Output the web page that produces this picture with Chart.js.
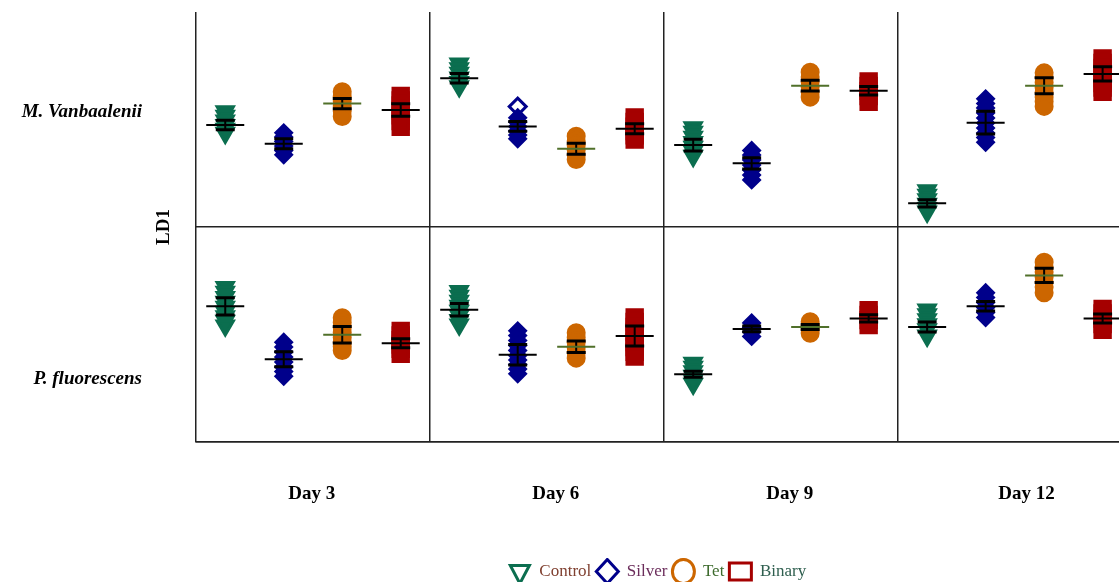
<!DOCTYPE html>
<html><head><meta charset="utf-8">
<script src="https://cdn.jsdelivr.net/npm/chart.js@4/dist/chart.umd.min.js"></script>
<style>html,body{margin:0;padding:0;background:#fff;}</style>
</head><body>
<canvas id="c" width="1119" height="582"></canvas>
<script>
// ---------- data ----------
const days = ['Day 3', 'Day 6', 'Day 9', 'Day 12'];
const treatments = ['Control', 'Silver', 'Tet', 'Binary'];
const species = ['M. Vanbaalenii', 'P. fluorescens'];

// M. Vanbaalenii: replicate LD1 scores per day (Day 3, 6, 9, 12)
const mvControl = [[0.37, 0.16, -0.05, -0.26, -0.44, -0.63], [2.59, 2.37, 2.16, 1.95, 1.74, 1.54], [-0.37, -0.58, -0.81, -1.05, -1.28, -1.49, -1.70], [-3.30, -3.51, -3.72, -3.93, -4.12, -4.29]];
const mvSilver = [[-0.62, -0.81, -1.02, -1.23, -1.44, -1.64], [0.08, -0.12, -0.33, -0.54, -0.72, -0.90], [-1.44, -1.65, -1.88, -2.12, -2.35, -2.58, -2.81], [0.96, 0.74, 0.54, 0.30, 0.07, -0.16, -0.40, -0.63, -0.84, -1.06]];
const mvSilverOpen = [[], [0.60], [], []];
const mvTet = [[1.29, 1.07, 0.86, 0.63, 0.40, 0.14], [-0.78, -1.00, -1.21, -1.42, -1.65, -1.86], [2.20, 1.98, 1.74, 1.51, 1.28, 1.04], [2.17, 1.95, 1.72, 1.49, 1.26, 1.05, 0.84, 0.61]];
const mvBinary = [[1.10, 0.88, 0.65, 0.42, 0.19, -0.07, -0.34], [0.09, -0.12, -0.33, -0.54, -0.74, -0.93], [1.77, 1.56, 1.33, 1.09, 0.82], [2.84, 2.63, 2.40, 2.16, 1.93, 1.70, 1.49, 1.29]];
// group means and standard errors [treatment][day]
const mvMean = [[-0.26, 1.92, -1.19, -3.90], [-1.13, -0.32, -2.04, -0.15], [0.74, -1.36, 1.57, 1.57], [0.44, -0.43, 1.34, 2.12]];
const mvSE = [[0.22, 0.22, 0.27, 0.17], [0.23, 0.23, 0.26, 0.53], [0.24, 0.26, 0.25, 0.37], [0.29, 0.23, 0.20, 0.33]];

// P. fluorescens
const pfControl = [[2.20, 1.98, 1.74, 1.51, 1.28, 1.05, 0.84, 0.63, 0.41], [2.01, 1.79, 1.56, 1.33, 1.09, 0.88, 0.67, 0.46], [-1.32, -1.51, -1.72, -1.93, -2.12, -2.30], [1.15, 0.93, 0.70, 0.47, 0.23, -0.06]];
const pfSilver = [[-0.36, -0.58, -0.81, -1.05, -1.28, -1.51, -1.72, -1.94], [0.17, -0.05, -0.28, -0.51, -0.74, -0.98, -1.19, -1.40, -1.61, -1.83], [0.54, 0.33, 0.12, -0.09], [1.94, 1.72, 1.49, 1.26, 1.02, 0.79]];
const pfSilverOpen = [[], [], [], []];
const pfTet = [[0.78, 0.56, 0.33, 0.09, -0.14, -0.35, -0.56, -0.74], [0.08, -0.14, -0.37, -0.61, -0.84, -1.10], [0.59, 0.42, 0.23, 0.06], [3.36, 3.14, 2.91, 2.67, 2.44, 2.21, 1.94]];
const pfBinary = [[0.17, -0.05, -0.26, -0.47, -0.67, -0.90], [0.79, 0.58, 0.35, 0.12, -0.12, -0.35, -0.58, -0.81, -1.02], [1.13, 0.91, 0.67, 0.44], [1.19, 0.98, 0.74, 0.49, 0.22]];
const pfMean = [[1.31, 1.15, -1.85, 0.35], [-1.15, -0.94, 0.26, 1.31], [-0.01, -0.57, 0.35, 2.75], [-0.41, -0.07, 0.75, 0.74]];
const pfSE = [[0.40, 0.29, 0.14, 0.23], [0.35, 0.48, 0.13, 0.22], [0.38, 0.27, 0.12, 0.33], [0.21, 0.47, 0.17, 0.21]];

// ---------- styling / layout ----------
const colors = ['#0b6e4f', '#00008b', '#cc6600', '#a50000'];
const legendText = ['#7f3f2f', '#6b2d5b', '#3d6b2d', '#2f5f4f'];
const marker = [
  {pointStyle: 'triangle', rotation: 180, radius: 9.4},
  {pointStyle: 'rectRot', rotation: 0, radius: 7.8},
  {pointStyle: 'circle', rotation: 0, radius: 8},
  {pointStyle: 'rect', rotation: 0, radius: 10.9}
];
const markerBorder = 3;
const tetMeanColor = '#50702a';
const SLOTS = 4;                 // x units per day panel
const XMAX = 15.78;              // right edge cuts the last panel
const meanHalf = 0.325, capHalf = 0.162;
const dayLabelAt = [1.98, 6.15, 10.15, 14.2];
const speciesLabelAt = [0.35, -2.07];
const lineCol = '#222';

const rows = [
  {axis: 'yTop', pts: [mvControl, mvSilver, mvTet, mvBinary], open: mvSilverOpen, mean: mvMean, se: mvSE},
  {axis: 'yBot', pts: [pfControl, pfSilver, pfTet, pfBinary], open: pfSilverOpen, mean: pfMean, se: pfSE}
];

const datasets = [];
rows.forEach(row => {
  const meanBlack = [], meanTet = [], stems = [], caps = [];
  for (let t = 0; t < 4; t++) {
    const pts = [];
    for (let d = 0; d < 4; d++) {
      const cx = d * SLOTS + t + 0.5;
      row.pts[t][d].forEach(v => pts.push({x: cx, y: v}));
      const m = row.mean[t][d], s = row.se[t][d];
      const tgt = t === 2 ? meanTet : meanBlack;
      tgt.push({x: cx - meanHalf, y: m}, {x: cx + meanHalf, y: m}, {x: cx, y: null});
      stems.push({x: cx, y: m - s}, {x: cx, y: m + s}, {x: cx, y: null});
      caps.push({x: cx - capHalf, y: m - s}, {x: cx + capHalf, y: m - s}, {x: cx, y: null});
      caps.push({x: cx - capHalf, y: m + s}, {x: cx + capHalf, y: m + s}, {x: cx, y: null});
    }
    datasets.push({
      type: 'scatter', label: treatments[t], data: pts, yAxisID: row.axis, xAxisID: 'x', order: 10,
      pointStyle: marker[t].pointStyle, pointRotation: marker[t].rotation,
      pointRadius: marker[t].radius, pointHoverRadius: marker[t].radius,
      backgroundColor: colors[t], borderColor: colors[t], borderWidth: markerBorder
    });
  }
  const open = [];
  row.open.forEach((arr, d) => arr.forEach(v => open.push({x: d * SLOTS + 1.5, y: v})));
  datasets.push({
    type: 'scatter', label: 'Silver open', data: open, yAxisID: row.axis, xAxisID: 'x', order: 11,
    pointStyle: 'rectRot', pointRadius: 8.5, pointHoverRadius: 8.5,
    backgroundColor: '#ffffff', borderColor: colors[1], borderWidth: 3
  });
  const lineDs = (label, data, color, width, order) => ({
    type: 'line', label, data, yAxisID: row.axis, xAxisID: 'x', order,
    borderColor: color, borderWidth: width, pointRadius: 0, pointHoverRadius: 0,
    spanGaps: false, fill: false, borderCapStyle: 'butt', tension: 0
  });
  datasets.push(lineDs('mean', meanBlack, '#000', 2, 3));
  datasets.push(lineDs('stem', stems, '#000', 2, 2));
  datasets.push(lineDs('cap', caps, '#000', 3, 1));
  datasets.push(lineDs('tet mean', meanTet, tetMeanColor, 2, 0));
});

const serif = 'Liberation Serif, Times New Roman, serif';
const noPad = s => { s.paddingTop = 0; s.paddingBottom = 0; s.paddingLeft = 0; s.paddingRight = 0; };

const yRowAxis = (idx) => ({
  type: 'linear', min: -5, max: 5, position: 'left', stack: 'rows', stackWeight: 1, weight: 1,
  afterBuildTicks: s => { s.ticks = [{value: -5}, {value: speciesLabelAt[idx]}]; },
  afterFit: s => { s.width = 152; noPad(s); },
  ticks: {
    callback: (v, i) => (i === 1 ? species[idx] : ''),
    font: {family: serif, size: 19, style: 'italic', weight: 'bold'},
    color: '#000', padding: 10, autoSkip: false
  },
  grid: {color: c => (c.index === 0 ? lineCol : 'rgba(0,0,0,0)'), lineWidth: 1.5, drawTicks: false},
  border: {display: false}
});

new Chart(document.getElementById('c'), {
  type: 'scatter',
  data: {datasets},
  options: {
    responsive: false,
    animation: false,
    devicePixelRatio: 1,
    events: [],
    layout: {autoPadding: false, padding: {top: 12, right: 0, left: 0, bottom: -8}},
    scales: {
      yBot: yRowAxis(1),
      yTop: yRowAxis(0),
      yLD: {
        type: 'linear', min: 0, max: 1, position: 'left', weight: 0,
        afterFit: s => { s.width = 44; noPad(s); },
        ticks: {display: false}, grid: {display: false, drawTicks: false}, border: {display: false},
        title: {display: true, text: 'LD1', font: {family: serif, size: 19, weight: 'bold'}, color: '#000', padding: {top: 1, bottom: 0}}
      },
      x: {
        type: 'linear', min: 0, max: XMAX, position: 'bottom', weight: 0,
        afterBuildTicks: s => { s.ticks = [0, 4, 8, 12].map(v => ({value: v})); },
        afterFit: s => { noPad(s); },
        ticks: {display: false},
        grid: {color: lineCol, lineWidth: 1.5, drawTicks: false},
        border: {display: true, color: lineCol, width: 1.5}
      },
      xDay: {
        type: 'linear', min: 0, max: XMAX, position: 'bottom', weight: 1,
        afterBuildTicks: s => { s.ticks = dayLabelAt.map(v => ({value: v})); },
        afterFit: s => { s.height = 116; noPad(s); },
        ticks: {callback: (v, i) => days[i], font: {family: serif, size: 19, weight: 'bold'}, color: '#000', padding: 41, maxRotation: 0, autoSkip: false},
        grid: {display: false, drawTicks: false},
        border: {display: false}
      }
    },
    plugins: {
      tooltip: {enabled: false},
      legend: {
        position: 'bottom', fullSize: false, align: 'center', onClick: null,
        labels: {
          usePointStyle: true, pointStyleWidth: 22, padding: 5,
          font: {family: serif, size: 17},
          generateLabels: () => treatments.map((t, i) => ({
            text: t, fillStyle: 'rgba(0,0,0,0)', strokeStyle: colors[i], lineWidth: 3,
            pointStyle: marker[i].pointStyle, rotation: marker[i].rotation,
            fontColor: legendText[i], hidden: false, datasetIndex: i
          }))
        }
      }
    }
  }
});
</script>
</body></html>
